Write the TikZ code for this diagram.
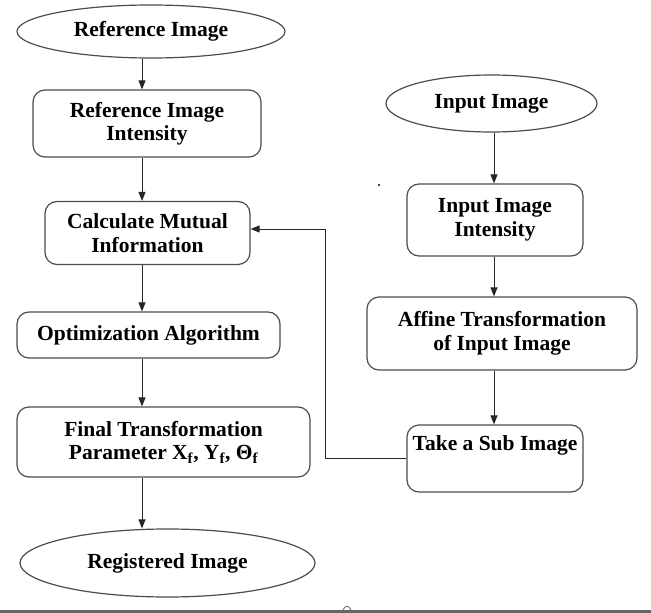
\documentclass[tikz,border=0pt]{standalone}
\usepackage{fontspec}
\setmainfont{Liberation Serif}
\usetikzlibrary{shapes.geometric, arrows.meta}

\begin{document}
\begin{tikzpicture}[x=1pt, y=-1pt,
        font=\fontsize{21.5}{23.5}\selectfont\bfseries,
        box/.style={draw=black!70, line width=1.2pt, rounded corners=12pt, align=center, inner sep=0pt},
        oval/.style={draw=black!70, line width=1.2pt, ellipse, inner sep=0pt},
        flow/.style={-{Triangle[length=9pt,width=7pt]}, line width=1pt, black!85}]
        \useasboundingbox (0,0) rectangle (651,613);

        % left column
        \coordinate (colL) at (142,0);
        \node[oval, minimum width=268, minimum height=53] (refimg) at (151,31.5) {Reference Image};
        \node[box, minimum width=228, minimum height=67] (refint) at (147,123.5) {Reference Image\\Intensity};
        \node[box, minimum width=205, minimum height=63] (calc) at (147.5,233) {Calculate Mutual\\Information};
        \node[box, minimum width=263, minimum height=46] (optim) at (148.5,335) {Optimization Algorithm};
        \node[box, minimum width=293, minimum height=70] (final) at (163.5,442) {Final Transformation\\Parameter X\textsubscript{f}, Y\textsubscript{f}, Θ\textsubscript{f}};
        \node[oval, minimum width=295, minimum height=68] (regimg) at (167.5,563) {Registered Image};

        \draw[flow] (refimg.south -| colL) -- (refint.north -| colL);
        \draw[flow] (refint.south -| colL) -- (calc.north -| colL);
        \draw[flow] (calc.south -| colL) -- (optim.north -| colL);
        \draw[flow] (optim.south -| colL) -- (final.north -| colL);
        \draw[flow] (final.south -| colL) -- (regimg.north -| colL);

        % right column
        \coordinate (colR) at (494,0);
        \node[oval, minimum width=211, minimum height=57] (inimg) at (491.5,103.5) {Input Image};
        \node[box, minimum width=176, minimum height=72] (inint) at (495,220) {Input Image\\Intensity};
        \node[box, minimum width=270, minimum height=73] (affine) at (502,333.5) {Affine Transformation\\of Input Image};
        \node[box, minimum width=176, minimum height=67] (subimg) at (495,458.5) {Take a Sub Image\\\strut};

        \draw[flow] (inimg.south -| colR) -- (inint.north -| colR);
        \draw[flow] (inint.south -| colR) -- (affine.north -| colR);
        \draw[flow] (affine.south -| colR) -- (subimg.north -| colR);

        % feedback
        \coordinate (fb) at (325,229);
        \draw[flow] (subimg.west) -| (fb) -- (fb -| calc.east);

        \fill (379,185) circle (1.2pt);
        \draw[black!60, line width=3pt] (0,611) -- (651,611);
        \draw[black!60, line width=0.8pt] (343,610) .. controls (345,605) and (349,605) .. (351,610);
    \end{tikzpicture}
\end{document}
